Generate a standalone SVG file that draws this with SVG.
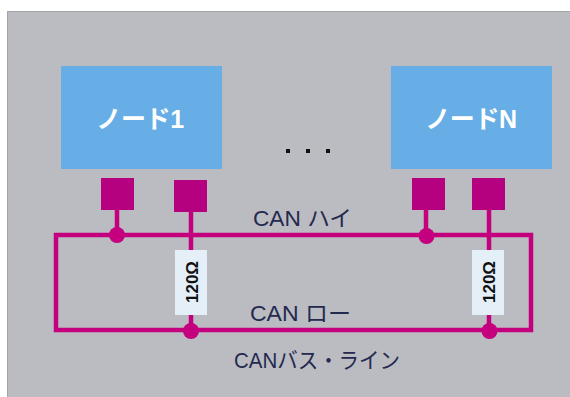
<svg xmlns="http://www.w3.org/2000/svg" width="570" height="397" viewBox="0 0 570 397">
<style>
text{font-family:"Liberation Sans","Noto Sans CJK JP",sans-serif}
.node{fill:#67aee6}
.nl{fill:#fff;font-size:25px;font-weight:bold;text-anchor:middle;letter-spacing:-.4px}
.pin{fill:#b5007f}
.w{stroke:#c4007f;stroke-width:4.500;fill:none}
.j{fill:#c4007f}
.r{fill:#e4eff8}
.rl{fill:#111;font-size:17px;font-weight:bold;text-anchor:middle}
.l{fill:#24294f;font-size:22px;text-anchor:middle}
</style>
<rect x="7.500" y="11.500" width="563" height="386" fill="#babcc1" stroke="#a3a5a6"/>
<g id="connectors">
<path class="w" d="M56 235H531V330H56Z"/>
<path class="w" d="M117 205V235M191 205V253M426 205V235M489 205V253M191 312V330M489 312V330"/>
<circle class="j" cx="117" cy="235" r="8"/>
<circle class="j" cx="191" cy="331" r="8"/>
<circle class="j" cx="426.500" cy="236" r="8"/>
<circle class="j" cx="489.500" cy="331" r="8"/>
</g>
<g id="node1"><rect class="node" x="61" y="66" width="161" height="103"/><text class="nl" x="140" y="128">ノード1</text></g>
<g id="nodeN"><rect class="node" x="391" y="66" width="161" height="103"/><text class="nl" x="471" y="128">ノードN</text></g>
<g id="pin1a"><rect class="pin" x="101" y="178" width="33" height="32"/></g>
<g id="pin1b"><rect class="pin" x="174" y="180" width="33" height="32"/></g>
<g id="pinNa"><rect class="pin" x="412" y="178" width="33" height="32"/></g>
<g id="pinNb"><rect class="pin" x="472" y="178" width="33" height="32"/></g>
<g id="res1"><rect class="r" x="175" y="250" width="32" height="65"/><text class="rl" transform="translate(198 282) rotate(-90)">120Ω</text></g>
<g id="resN"><rect class="r" x="472" y="250" width="32" height="65"/><text class="rl" transform="translate(495 282) rotate(-90)">120Ω</text></g>
<g id="dots" fill="#111"><rect x="286" y="149" width="4" height="4"/><rect x="306" y="149" width="4" height="4"/><rect x="326" y="149" width="4" height="4"/></g>
<text class="l" x="302.500" y="226" textLength="99" lengthAdjust="spacingAndGlyphs">CAN ハイ</text>
<text class="l" x="300.500" y="321" textLength="101" lengthAdjust="spacingAndGlyphs">CAN ロー</text>
<text class="l" x="317" y="368" textLength="166" lengthAdjust="spacingAndGlyphs">CANバス・ライン</text>
</svg>
